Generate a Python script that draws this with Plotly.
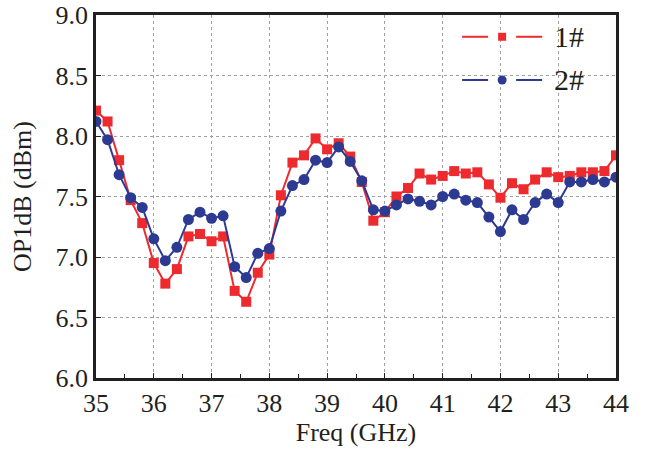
import plotly.graph_objects as go

freq = [35.0 + 0.2 * i for i in range(46)]

op1db_1 = [8.21, 8.12, 7.80, 7.47, 7.28, 6.95, 6.78, 6.90, 7.17, 7.19, 7.13, 7.17, 6.72, 6.63, 6.87, 7.02,
           7.51, 7.78, 7.84, 7.98, 7.89, 7.94, 7.83, 7.62, 7.30, 7.37, 7.50, 7.57, 7.69, 7.64,
           7.67, 7.71, 7.69, 7.70, 7.60, 7.49, 7.61, 7.56, 7.64, 7.70, 7.66, 7.67, 7.70, 7.70, 7.71, 7.84]
op1db_2 = [8.12, 7.97, 7.68, 7.49, 7.41, 7.15, 6.97, 7.08, 7.31, 7.37, 7.32, 7.34, 6.92, 6.83, 7.03, 7.07,
           7.38, 7.59, 7.64, 7.80, 7.78, 7.91, 7.79, 7.63, 7.39, 7.38, 7.43, 7.48, 7.46, 7.43,
           7.50, 7.52, 7.47, 7.45, 7.33, 7.21, 7.39, 7.31, 7.45, 7.52, 7.45, 7.62, 7.62, 7.64, 7.62, 7.66]

series_names = ["1#", "2#"]
red = "#ed2a2e"
blue = "#2d3a92"
font_family = "Times New Roman"

fig = go.Figure()
fig.add_trace(go.Scatter(x=freq, y=op1db_1, mode="lines+markers", name=series_names[0],
                         line=dict(color=red, width=2),
                         marker=dict(symbol="square", size=10, color=red)))
fig.add_trace(go.Scatter(x=freq, y=op1db_2, mode="lines+markers", name=series_names[1],
                         line=dict(color=blue, width=2),
                         marker=dict(symbol="circle", size=11, color=blue)))

# manual legend (long dashed symbol with marker in the middle)
shapes = []
annotations = []
leg_items = [(series_names[0], red, "square", 0.940), (series_names[1], blue, "circle", 0.821)]
x0, x1 = 0.704, 0.858
for name, col, sym, yy in leg_items:
    shapes.append(dict(type="line", xref="paper", yref="paper", x0=x0, x1=x0 + 0.05, y0=yy, y1=yy,
                       line=dict(color=col, width=2)))
    shapes.append(dict(type="line", xref="paper", yref="paper", x0=x1 - 0.05, x1=x1, y0=yy, y1=yy,
                       line=dict(color=col, width=2)))
    xc = (x0 + x1) / 2
    if sym == "square":
        shapes.append(dict(type="rect", xref="paper", yref="paper", xsizemode="pixel", ysizemode="pixel",
                           xanchor=xc, yanchor=yy, x0=-4, x1=4, y0=-4, y1=4,
                           fillcolor=col, line=dict(width=0)))
    else:
        shapes.append(dict(type="circle", xref="paper", yref="paper", xsizemode="pixel", ysizemode="pixel",
                           xanchor=xc, yanchor=yy, x0=-4.5, x1=4.5, y0=-4.5, y1=4.5,
                           fillcolor=col, line=dict(width=0)))
    annotations.append(dict(xref="paper", yref="paper", x=0.876, y=yy, text=name, showarrow=False,
                            xanchor="left", yanchor="middle",
                            font=dict(family=font_family, size=30, color="#231f20")))

fig.update_layout(
    width=650, height=451,
    margin=dict(l=96, r=34, t=15, b=73),
    paper_bgcolor="white", plot_bgcolor="white",
    showlegend=False,
    font=dict(family=font_family, size=26, color="#231f20"),
    shapes=shapes,
    annotations=annotations,
)
fig.update_xaxes(
    range=[35, 44], dtick=1, tick0=35, automargin=False, ticklabeloverflow="allow",
    showline=True, linecolor="#231f20", linewidth=2.5, mirror=True,
    ticks="inside", ticklen=5, tickcolor="#231f20",
    minor=dict(ticks="inside", ticklen=4, dtick=0.5, tickcolor="#231f20", showgrid=False),
    showgrid=True, gridcolor="#a0a0a0", griddash="dot", gridwidth=1,
    zeroline=False,
    title=dict(text="Freq (GHz)", standoff=2, font=dict(size=26)),
    tickfont=dict(size=26),
)
fig.update_yaxes(
    range=[6.0, 9.0], dtick=0.5, tick0=6.0, tickformat=".1f", automargin=False,
    ticklabeloverflow="allow",
    showline=True, linecolor="#231f20", linewidth=2.5, mirror=True,
    ticks="inside", ticklen=5, tickcolor="#231f20",
    showgrid=True, gridcolor="#a0a0a0", griddash="dot", gridwidth=1,
    zeroline=False,
    title=dict(text="OP1dB (dBm)", standoff=17, font=dict(size=26)),
    tickfont=dict(size=26),
)

fig.write_html("out.html", config={"displayModeBar": False},
               post_script="document.body.style.margin='0';")
